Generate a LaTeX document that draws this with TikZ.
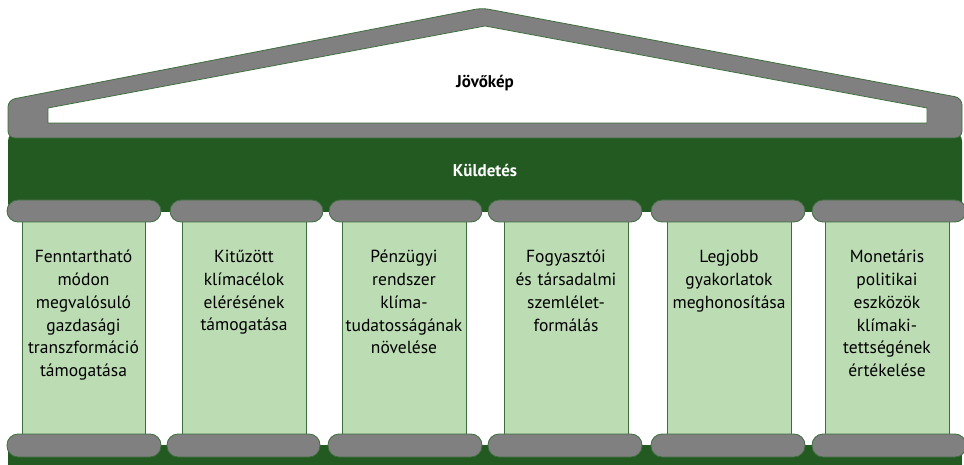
\documentclass[tikz,border=0pt]{standalone}
\usepackage{fontspec}
\setmainfont{PT Sans}
\begin{document}
\begin{tikzpicture}[x=1pt,y=-1pt,
  pill/.style={fill=pillgray,draw=edgegreen,line width=0.8pt,rounded corners=11pt},
  shaft/.style={fill=lightg,draw=edgegreen,line width=0.8pt},
  ptext/.style={align=center,font=\fontsize{17.5}{22.8}\selectfont,text width=130pt,inner sep=0pt,anchor=north},
  ttext/.style={font=\bfseries\fontsize{17}{19}\selectfont}]
\definecolor{kgreen}{HTML}{225A22}
\definecolor{pillgray}{HTML}{808080}
\definecolor{edgegreen}{HTML}{3E6E3E}
\definecolor{lightg}{HTML}{BCDCB4}
\useasboundingbox (0,0) rectangle (964,465);
% base band
\fill[kgreen] (8,445) rectangle (962,465);
% mission band
\fill[kgreen,rounded corners=9pt] (8,132) rectangle (962,212);
% roof
\draw[fill=pillgray,draw=edgegreen,line width=0.8pt,rounded corners=7pt]
  (8,138) -- (8,100) -- (482,8) -- (962,98) -- (962,138) -- cycle;
\draw[fill=white,draw=edgegreen,line width=0.8pt]
  (48,108) -- (485,26) -- (927,108) -- (927,123) -- (48,123) -- cycle;
\node[ttext] (vision) at (485,83) {Jövőkép};
\node[ttext,text=white] (mission) at (485,170) {Küldetés};
% pillars
\foreach \i/\cx/\sl/\sr/\tl/\tr/\bl/\br/\txt in {
  1/83.5/22/145/7/161/7/161/{Fenntartható\\módon\\megvalósuló\\gazdasági\\transzformáció\\támogatása},
  2/244/182/306/170/323/167/320/{Kitűzött\\klímacélok\\elérésének\\támogatása},
  3/404/342/466/329/482/328/482/{Pénzügyi\\rendszer\\klíma-\\tudatosságának\\növelése},
  4/566/504/628/488/642/488/642/{Fogyasztói\\és társadalmi\\szemlélet-\\formálás},
  5/729/667/791/651/805/651/805/{Legjobb\\gyakorlatok\\meghonosítása},
  6/887/825/949/812/966/812/966/{Monetáris\\politikai\\eszközök\\klímaki-\\tettségének\\értékelése}} {
  \draw[shaft] (\sl,220) rectangle (\sr,436);
  \draw[pill] (\tl,200) rectangle (\tr,222);
  \draw[pill] (\bl,434) rectangle (\br,457);
  \node[ptext] (p\i) at (\cx,250) {\txt};
}
\end{tikzpicture}
\end{document}
